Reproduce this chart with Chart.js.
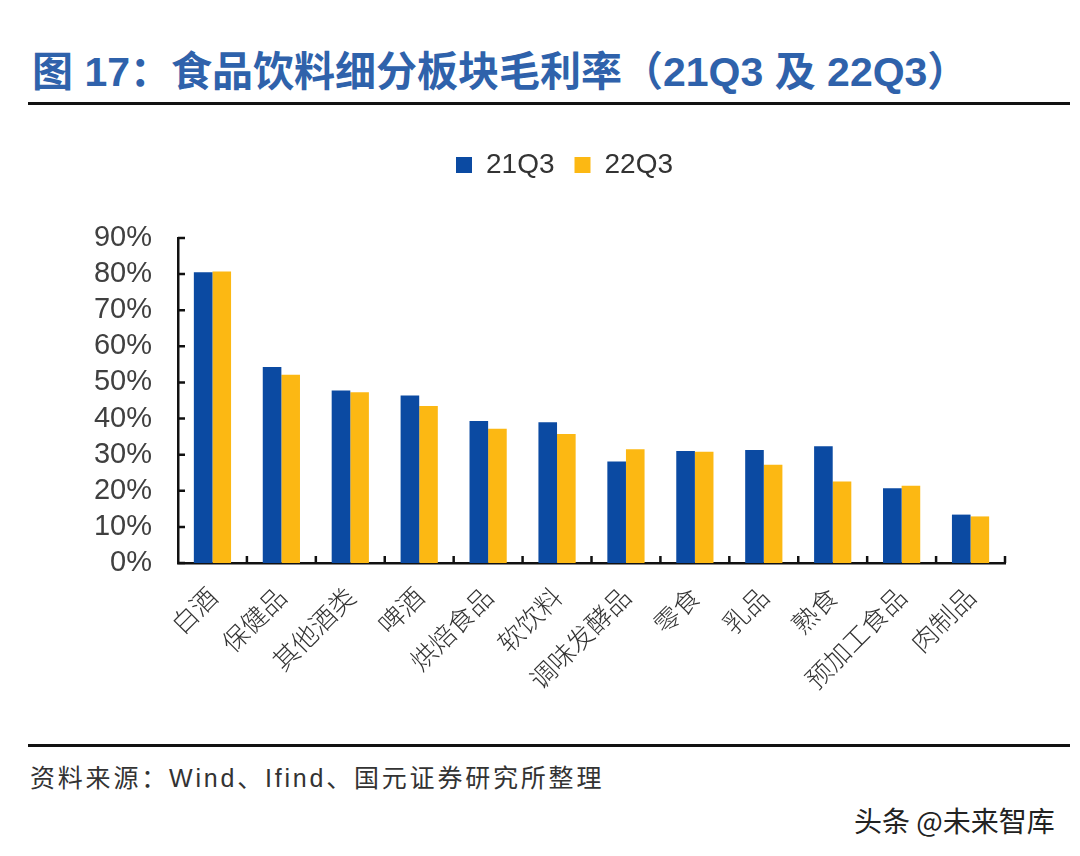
<!DOCTYPE html>
<html>
<head>
<meta charset="utf-8">
<script src="https://cdn.jsdelivr.net/npm/chart.js@4.4.0/dist/chart.umd.min.js"></script>
<style>
  html, body { margin: 0; padding: 0; background: #fff; }
  body { width: 1080px; height: 856px; position: relative; overflow: hidden; }
  .title {
    position: absolute; left: 32px; top: 49px;
    font-family: "Liberation Sans", "Noto Sans CJK SC", sans-serif;
    font-weight: 700; font-size: 41px; line-height: 46px; color: #2f62ab;
    white-space: nowrap;
  }
  .rule { position: absolute; left: 28px; width: 1042px; height: 3px; background: #111; }
  .source {
    position: absolute; left: 30px; top: 762px;
    font-family: "Liberation Sans", "Noto Sans CJK SC", sans-serif;
    font-size: 25px; line-height: 32px; letter-spacing: 2.8px; color: #333;
    white-space: nowrap;
  }
  .mark {
    position: absolute; left: 854px; top: 803px;
    font-family: "Noto Sans CJK SC", sans-serif;
    font-size: 28px; line-height: 34px; color: #222;
    text-shadow: 0 0 2px #fff, 0 0 2px #fff;
    white-space: nowrap;
  }
  #chart { position: absolute; left: 0; top: 120px; }
</style>
</head>
<body>
<div class="title">图 17：食品饮料细分板块毛利率（21Q3 及 22Q3）</div>
<div class="rule" style="top:102px"></div>
<canvas id="chart" width="1080" height="620"></canvas>
<div class="rule" style="top:744px"></div>
<div class="source">资料来源：Wind、Ifind、国元证券研究所整理</div>
<div class="mark">头条 @未来智库</div>

<script>
const categories = ["白酒", "保健品", "其他酒类", "啤酒", "烘焙食品", "软饮料",
  "调味发酵品", "零食", "乳品", "熟食", "预加工食品", "肉制品"];
const seriesNames = ["21Q3", "22Q3"];
const values21Q3 = [80.5, 54.3, 47.8, 46.4, 39.3, 39.0, 28.1, 31.0, 31.3, 32.3, 20.7, 13.4];
const values22Q3 = [80.7, 52.1, 47.3, 43.5, 37.2, 35.7, 31.5, 30.8, 27.2, 22.6, 21.4, 12.9];
const yTicks = [0, 10, 20, 30, 40, 50, 60, 70, 80, 90];

const BLUE = "#0b4aa2";
const YELLOW = "#fcb813";

// extra room under the legend, and nudge it right to sit where the original is
const legendPlace = {
  id: "legendPlace",
  beforeLayout(chart) {
    const lg = chart.legend;
    if (lg && !lg._gapPatched) {
      const fit = lg.fit;
      lg.fit = function () {
        fit.call(this);
        this.height += 49;
      };
      lg._gapPatched = true;
    }
  },
  afterLayout(chart) {
    const lg = chart.legend;
    if (!lg) return;
    lg.left += 17;
    lg.right += 17;
  },
};

// short tick marks pointing into the plot
const innerTicks = {
  id: "innerTicks",
  afterDraw(chart) {
    const { ctx, chartArea } = chart;
    const x = chart.scales.x;
    const y = chart.scales.y;
    ctx.save();
    ctx.strokeStyle = "#111";
    ctx.lineWidth = 2.5;
    ctx.beginPath();
    yTicks.forEach((v) => {
      const py = y.getPixelForValue(v);
      ctx.moveTo(chartArea.left, py);
      ctx.lineTo(chartArea.left + 7, py);
    });
    const step = x.width / categories.length;
    for (let i = 1; i <= categories.length; i++) {
      const px = x.left + i * step;
      ctx.moveTo(px, chartArea.bottom);
      ctx.lineTo(px, chartArea.bottom - 7);
    }
    ctx.stroke();
    ctx.restore();
  },
};

new Chart(document.getElementById("chart"), {
  type: "bar",
  data: {
    labels: categories,
    datasets: [
      { label: seriesNames[0], data: values21Q3, backgroundColor: BLUE },
      { label: seriesNames[1], data: values22Q3, backgroundColor: YELLOW },
    ],
  },
  options: {
    responsive: false,
    animation: false,
    devicePixelRatio: 1,
    layout: { padding: { top: 11, left: 90, right: 75, bottom: 0 } },
    datasets: { bar: { categoryPercentage: 0.54, barPercentage: 1.0 } },
    plugins: {
      legend: {
        display: true,
        position: "top",
        labels: {
          boxWidth: 16,
          boxHeight: 16,
          padding: 20,
          color: "#333",
          font: { family: "Liberation Sans", size: 28 },
        },
      },
      tooltip: { enabled: false },
    },
    scales: {
      x: {
        grid: { display: false },
        border: { display: true, color: "#111", width: 2.5 },
        ticks: {
          autoSkip: false,
          minRotation: 45,
          maxRotation: 45,
          padding: 10,
          color: "#333",
          font: { family: "Noto Sans CJK SC", size: 26, weight: "300" },
        },
        afterFit(s) { s.height = 177; },
      },
      y: {
        min: 0,
        max: 90,
        grid: { display: false, drawTicks: false },
        border: { display: true, color: "#111", width: 2.5 },
        ticks: {
          stepSize: 10,
          autoSkip: false,
          padding: 26,
          color: "#404040",
          font: { family: "Liberation Sans", size: 29 },
          callback: (v) => v + "%",
        },
        afterFit(s) { s.width = 88; },
      },
    },
  },
  plugins: [legendPlace, innerTicks],
});
</script>
</body>
</html>
